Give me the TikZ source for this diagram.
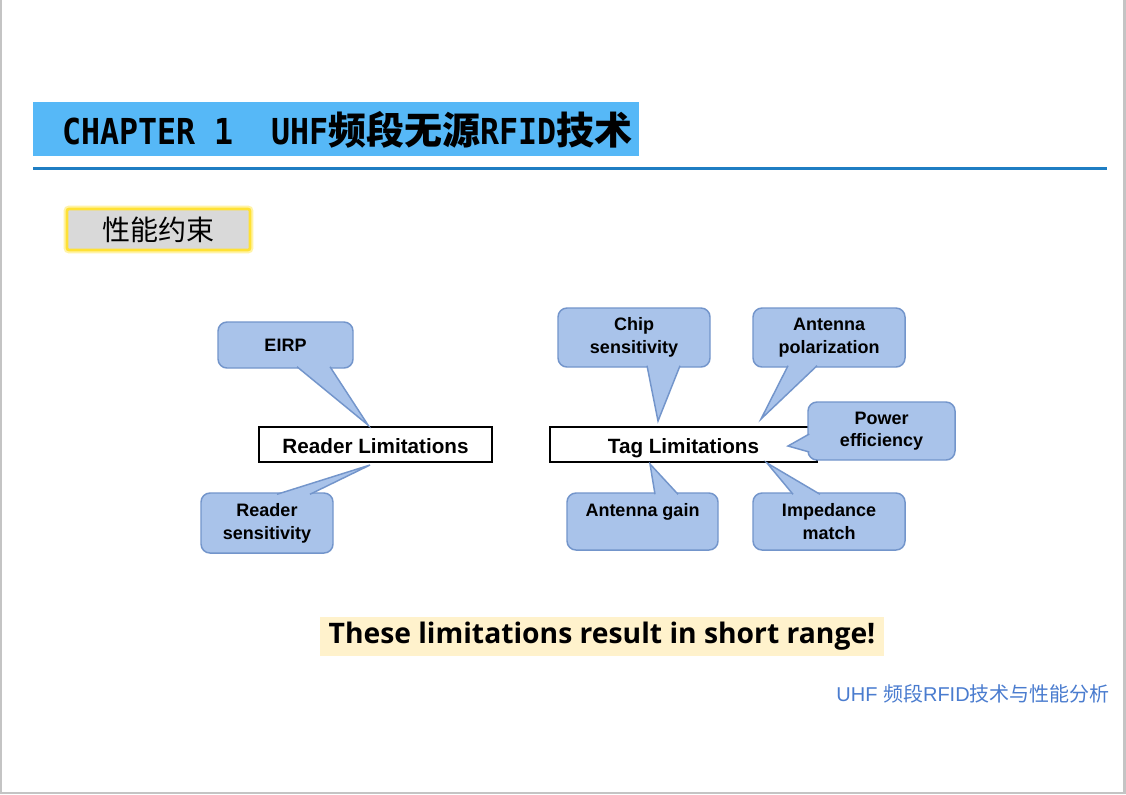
\documentclass[tikz,border=0pt]{standalone}
\usepackage{fontspec}
\usepackage{xcolor}
\usepackage{tikz}
\usetikzlibrary{calc}
\setmainfont{Liberation Sans}
\newfontfamily\cjk{Noto Sans CJK SC}
\newfontfamily\narrowmono[FakeStretch=0.885]{DejaVu Sans Mono}
\newfontfamily\notefont{Open Sans}
\newlength\pxu
\setlength\pxu{0.75pt}
\definecolor{titlebar}{HTML}{56B8F7}
\definecolor{titleline}{HTML}{1F7EC3}
\definecolor{framegray}{HTML}{C4C4C4}
\definecolor{topicfill}{HTML}{D9D9D9}
\definecolor{glow}{HTML}{FFE135}
\definecolor{glowsoft}{HTML}{FFF3A6}
\definecolor{bubblefill}{HTML}{A9C3EA}
\definecolor{bubbleedge}{HTML}{7395CB}
\definecolor{notefill}{HTML}{FFF2CC}
\definecolor{footblue}{HTML}{4A7CCF}
\newcommand\titlelatin[1]{{\narrowmono\bfseries\fontsize{26.8}{30}\selectfont #1}}
\newcommand\titlecjk[1]{{\cjk\bfseries\fontsize{28.5}{30}\selectfont #1}}
\tikzset{
  topic/.style={rounded corners=1.5pt,draw=glow,line width=2pt,fill=topicfill,preaction={draw=glowsoft,line width=5pt},minimum width=183\pxu,minimum height=41\pxu,inner sep=0pt,font=\cjk\fontsize{21}{24}\selectfont},
  limit/.style={draw=black,line width=1.5pt,fill=white,minimum width=233\pxu,minimum height=35\pxu,inner sep=0pt,text height=14pt,text depth=0pt,font=\fontsize{15.5}{18}\selectfont\bfseries},
  bubble/.style={rounded corners=9\pxu,draw=bubbleedge,line width=1.1pt,fill=bubblefill,align=center,inner sep=0pt,minimum width=152\pxu,minimum height=59\pxu,font=\fontsize{13.5}{17}\selectfont\bfseries},
  pointer/.style={draw=bubbleedge,line width=1.1pt,fill=bubblefill,line join=miter},
  note/.style={fill=notefill,minimum width=564\pxu,minimum height=39\pxu,inner sep=0pt,font=\notefont\bfseries\fontsize{21.2}{24}\selectfont},
  footer/.style={text=footblue,inner sep=0pt,font=\fontsize{15}{18}\selectfont}
}
\begin{document}
\begin{tikzpicture}[x=0.75pt,y=-0.75pt]
  \useasboundingbox (0,0) rectangle (1126,794);
  \fill[framegray] (0,0) rectangle (1126,794);
  \fill[white] (1.5,0) rectangle (1123,792);
  \fill[titlebar] (33,102) rectangle (639,156);
  \node[anchor=base west,inner sep=0pt] (title) at (62,144) {\titlelatin{CHAPTER 1\ \ UHF}\titlecjk{频段无源}\titlelatin{RFID}\titlecjk{技术}};
  \draw[titleline,line width=2.25pt] (33,168) -- (1107,168);
  \node[topic] (topic) at (158.5,229.5) {性能约束};

  \node[limit] (reader) at (375.5,444.5) {Reader Limitations};
  \node[limit,minimum width=267\pxu] (tag) at (683.5,444.5) {Tag Limitations};

  \node[bubble,minimum width=135\pxu,minimum height=46\pxu] (eirp) at (285.5,345) {EIRP};
  \filldraw[pointer] ($(eirp.south)+(11.5,-2)$) -- ($(reader.north)+(-7.5,-1)$) -- ($(eirp.south)+(44.5,-2)$);
  \node[bubble,minimum width=132\pxu,minimum height=60\pxu] (rsens) at (267,523) {Reader\\sensitivity};
  \filldraw[pointer] ($(rsens.north)+(10,2)$) -- ($(reader.south)+(-5.5,2)$) -- ($(rsens.north)+(43,2)$);

  \node[bubble] (chip) at (634,337.5) {Chip\\sensitivity};
  \filldraw[pointer] ($(chip.south)+(13,-2)$) -- ($(tag.north)+(-25.5,-5)$) -- ($(chip.south)+(46,-2)$);
  \node[bubble] (apol) at (829,337.5) {Antenna\\polarization};
  \filldraw[pointer] ($(apol.south)+(-41,-2)$) -- ($(tag.north)+(77.5,-7)$) -- ($(apol.south)+(-12,-2)$);
  \node[bubble,minimum width=147\pxu,minimum height=58\pxu] (power) at (881.5,431) {Power\\efficiency};
  \filldraw[pointer] ($(power.west)+(2,3)$) -- ($(tag.east)+(-30,1.5)$) -- ($(power.west)+(2,21)$);
  \node[bubble,minimum width=151\pxu,minimum height=57\pxu] (gain) at (642.5,521.5) {Antenna gain\\\mbox{}};
  \filldraw[pointer] ($(gain.north)+(12.5,2)$) -- ($(tag.south)+(-33.5,1)$) -- ($(gain.north)+(35.5,2)$);
  \node[bubble,minimum height=57\pxu] (imp) at (829,521.5) {Impedance\\match};
  \filldraw[pointer] ($(imp.north)+(-36,2)$) -- ($(tag.south)+(83.5,0)$) -- ($(imp.north)+(-9,2)$);

  \node[note] (note) at (602,636) {These limitations result in short range!};
  \node[footer,anchor=east] (footer) at (1110,694) {UHF {\cjk 频段}RFID{\cjk 技术与性能分析}};
\end{tikzpicture}
\end{document}
